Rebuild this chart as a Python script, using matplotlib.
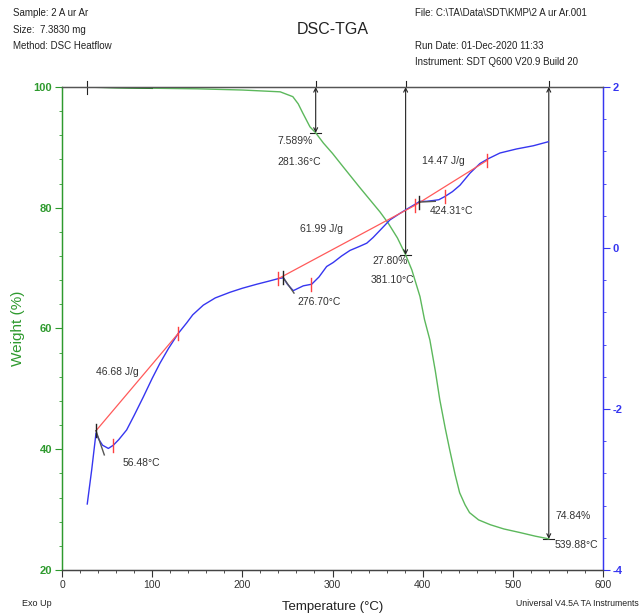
import matplotlib
matplotlib.use("Agg")
import matplotlib.pyplot as plt
from matplotlib import font_manager
from matplotlib.ticker import MultipleLocator

# pick a narrow sans if present
names = {f.name for f in font_manager.fontManager.ttflist}
base_font = "Liberation Sans Narrow" if "Liberation Sans Narrow" in names else "Liberation Sans"
plt.rcParams["font.family"] = [base_font, "DejaVu Sans"]
plt.rcParams["axes.unicode_minus"] = False

# TGA curve: temperature (C) vs weight (%)
tga_temp = [28, 60, 100, 150, 200, 242, 256, 262, 267, 275, 281.36, 290, 300,
            311.7, 330, 352.7, 362, 372, 381.1, 388, 397, 402, 408, 414, 419,
            425, 430, 436, 441, 447, 452, 462, 475, 490, 508, 525, 539.88]
tga_weight = [100.0, 99.9, 99.8, 99.7, 99.5, 99.2, 98.4, 97.2, 95.7, 93.4, 92.41,
              90.7, 89.0, 86.8, 83.4, 79.3, 77.4, 75.0, 72.2, 69.7, 65.3, 61.5,
              58.1, 53.0, 48.2, 43.5, 39.9, 35.8, 32.8, 30.8, 29.5, 28.3, 27.5,
              26.8, 26.2, 25.6, 25.16]

# DSC curve: temperature (C) vs heat flow (W/g)
dsc_temp = [28.0, 33, 37.7, 41, 45, 51.4, 56.9, 63, 71.7, 80, 90.2, 100, 108.7,
            118, 129, 138.3, 145, 156.7, 170, 186.3, 200, 216, 230, 240, 245.5,
            250, 256.5, 262, 267.6, 276.9, 285, 293.5, 300.8, 310, 319.4, 330,
            338, 345, 352.7, 363.8, 374.8, 382, 389.6, 397, 404, 411.8, 418,
            424.7, 433, 441.4, 452.5, 463.6, 472.9, 485.7, 504, 522.7, 539.3]
dsc_heat = [-3.18, -2.75, -2.30, -2.38, -2.45, -2.49, -2.45, -2.38, -2.26, -2.08,
            -1.85, -1.62, -1.43, -1.25, -1.06, -0.93, -0.83, -0.71, -0.62, -0.55,
            -0.50, -0.45, -0.41, -0.38, -0.37, -0.45, -0.53, -0.50, -0.47, -0.45,
            -0.36, -0.23, -0.18, -0.10, -0.03, 0.02, 0.06, 0.13, 0.22, 0.35, 0.43,
            0.48, 0.53, 0.58, 0.58, 0.59, 0.60, 0.64, 0.70, 0.78, 0.93, 1.05, 1.11,
            1.18, 1.23, 1.27, 1.32]

# integration baselines
base_temp = [[37.7, 129.0], [240.0, 391.5], [391.5, 471.7]]
base_heat = [[-2.27, -1.06], [-0.38, 0.53], [0.53, 1.09]]

# limit markers on the DSC curve
red_mark_temp = [56.5, 129.0, 240.0, 276.7, 391.5, 424.3, 471.7]
red_mark_heat = [-2.45, -1.06, -0.38, -0.45, 0.53, 0.64, 1.09]
dark_mark_temp = [37.7, 245.5, 396.0]
dark_mark_heat = [-2.27, -0.37, 0.57]

# tangent segments
tan_temp = [[37.7, 46.9], [245.5, 257.3], [396.0, 414.0]]
tan_heat = [[-2.27, -2.57], [-0.37, -0.56], [0.57, 0.58]]

# TGA step analysis
step_temp = [281.36, 381.10, 539.88]
step_weight = [92.41, 72.20, 25.16]
step_start = 28

GREEN = "#2e9a2e"
BLUE = "#3636f0"
TXT = "#333333"

fig = plt.figure(figsize=(6.42, 6.14), dpi=100)
ax = fig.add_axes([62 / 642, 1 - 570 / 614, 541 / 642, 483 / 614])
ax2 = ax.twinx()

ax.plot(tga_temp, tga_weight, color="#5cb85c", lw=1.0, zorder=3)
ax.plot(tga_temp[:3], tga_weight[:3], color="#2e7d2e", lw=1.2, zorder=3)

ax2.plot(dsc_temp, dsc_heat, color=BLUE, lw=1.0, zorder=3)
for bt, bh in zip(base_temp, base_heat):
    ax2.plot(bt, bh, color="#ff5a5a", lw=0.9, zorder=4)
for tt, th in zip(tan_temp, tan_heat):
    ax2.plot(tt, th, color="#555555", lw=1.0, zorder=5)
for t, h in zip(red_mark_temp, red_mark_heat):
    ax2.plot([t, t], [h - 0.08, h + 0.08], color="#ff4040", lw=1.0, zorder=5)
for t, h in zip(dark_mark_temp, dark_mark_heat):
    ax2.plot([t, t], [h - 0.08, h + 0.08], color="#222222", lw=1.0, zorder=6)

# step arrows
for t, w in zip(step_temp, step_weight):
    ax.plot([t, t], [100, 101.0], color="#222222", lw=0.8, clip_on=False)
    ax.annotate("", xy=(t, w), xytext=(t, 100),
                arrowprops=dict(arrowstyle="<->", color="#222222", lw=0.8,
                                shrinkA=0, shrinkB=0, mutation_scale=7))
    ax.plot([t - 6, t + 6], [w, w], color="#222222", lw=0.8)
ax.plot([step_start, step_start], [98.9, 101.0], color="#222222", lw=0.8, clip_on=False)

ann = [
    ("7.589%", 258, 91.0), ("281.36°C", 263.5, 87.6),
    ("61.99 J/g", 288, 76.5), ("27.80%", 364, 71.1), ("381.10°C", 367, 68.0),
    ("14.47 J/g", 422.5, 87.75), ("424.31°C", 431.5, 79.5),
    ("276.70°C", 285, 64.45), ("46.68 J/g", 61, 52.8), ("56.48°C", 88.5, 37.8),
    ("74.84%", 566.5, 29.0), ("539.88°C", 570, 24.2),
]
for s, x, y in ann:
    ax.text(x, y, s, fontsize=7.5, color=TXT, ha="center", va="center", zorder=7)

ax.set_xlim(0, 600)
ax.set_ylim(20, 100)
ax2.set_ylim(-4, 2)
ax.xaxis.set_major_locator(MultipleLocator(100))
ax.xaxis.set_minor_locator(MultipleLocator(20))
ax.yaxis.set_major_locator(MultipleLocator(20))
ax.yaxis.set_minor_locator(MultipleLocator(4))
ax2.yaxis.set_major_locator(MultipleLocator(2))
ax2.yaxis.set_minor_locator(MultipleLocator(0.4))

ax.tick_params(axis="x", which="major", direction="out", length=5, width=0.8,
               color="#333333", labelsize=7.5, labelcolor=TXT, pad=2)
ax.tick_params(axis="x", which="minor", direction="out", length=2.5, width=0.6, color="#333333")
ax.tick_params(axis="y", which="major", direction="out", length=5, width=0.8,
               color=GREEN, labelsize=8, labelcolor=GREEN, pad=2)
ax.tick_params(axis="y", which="minor", direction="out", length=2.5, width=0.6, color=GREEN)
ax2.tick_params(axis="y", which="major", direction="out", length=5, width=0.8,
                color=BLUE, labelsize=8, labelcolor=BLUE, pad=2)
ax2.tick_params(axis="y", which="minor", direction="out", length=2.5, width=0.6, color=BLUE)
for lab in ax.get_yticklabels() + ax2.get_yticklabels():
    lab.set_fontweight("bold")

for a in (ax, ax2):
    a.spines["left"].set_color(GREEN)
    a.spines["right"].set_color(BLUE)
    a.spines["top"].set_color("#555555")
    a.spines["bottom"].set_color("#444444")
    for sp in a.spines.values():
        sp.set_linewidth(0.9)

ax.set_xlabel("Temperature (°C)", fontsize=9.5, color="#222222", labelpad=8)
ax.set_ylabel("Weight (%)", fontsize=11, color=GREEN, labelpad=6)

fig.text(13 / 642, 1 - 13 / 614, "Sample: 2 A ur Ar", fontsize=7, color="#222222", va="center")
fig.text(13 / 642, 1 - 30 / 614, "Size:  7.3830 mg", fontsize=7, color="#222222", va="center")
fig.text(13 / 642, 1 - 46 / 614, "Method: DSC Heatflow", fontsize=7, color="#222222", va="center")
fig.text(333 / 642, 1 - 30 / 614, "DSC-TGA", fontsize=11.5, color="#222222", ha="center", va="center")
fig.text(415 / 642, 1 - 13 / 614, r"File: C:\TA\Data\SDT\KMP\2 A ur Ar.001", fontsize=7, color="#222222", va="center")
fig.text(415 / 642, 1 - 46 / 614, "Run Date: 01-Dec-2020 11:33", fontsize=7, color="#222222", va="center")
fig.text(415 / 642, 1 - 62 / 614, "Instrument: SDT Q600 V20.9 Build 20", fontsize=7, color="#222222", va="center")
fig.text(22 / 642, 1 - 603 / 614, "Exo Up", fontsize=6.5, color="#222222", va="center")
fig.text(639 / 642, 1 - 603 / 614, "Universal V4.5A TA Instruments", fontsize=6.3,
         color="#222222", ha="right", va="center")

fig.savefig("out.png", dpi=100)
